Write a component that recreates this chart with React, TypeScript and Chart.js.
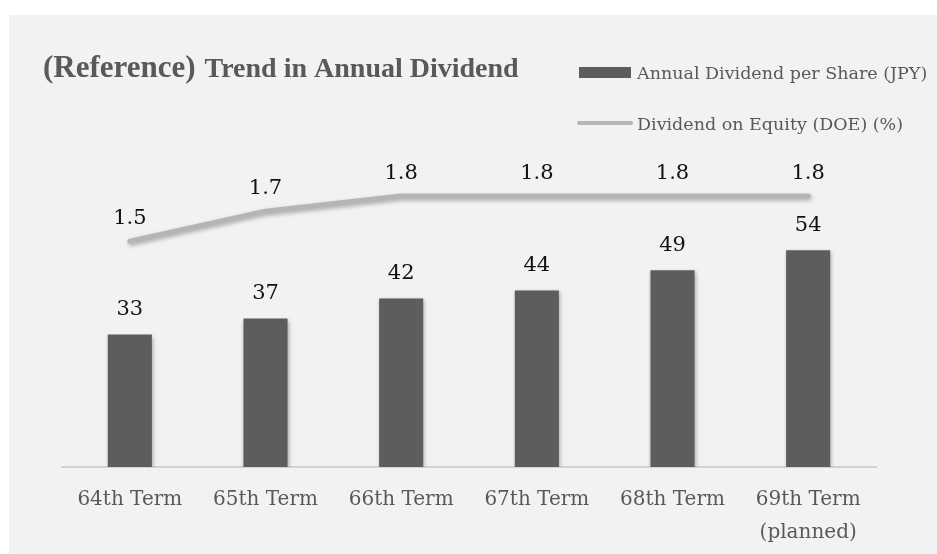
import React, { useEffect, useRef } from 'react';
import { Chart, registerables } from 'chart.js';

Chart.register(...registerables);

const categories: string[][] = [
  ['64th Term'],
  ['65th Term'],
  ['66th Term'],
  ['67th Term'],
  ['68th Term'],
  ['69th Term', '(planned)'],
];
const dividendJPY: number[] = [33, 37, 42, 44, 49, 54];
const doePercent: number[] = [1.5, 1.7, 1.8, 1.8, 1.8, 1.8];

const titlePrefix = '(Reference)';
const titleMain = 'Trend in Annual Dividend';
const barLabel = 'Annual Dividend per Share (JPY)';
const lineLabel = 'Dividend on Equity (DOE) (%)';

const BAR_COLOR = '#5d5d5d';
const LINE_COLOR = '#b5b5b5';
const TEXT_GRAY = '#595959';
const SERIF = '"DejaVu Serif", serif';
const TITLE_SERIF = '"Liberation Serif", "Times New Roman", serif';

const shadowPlugin = {
  id: 'shadowPlugin',
  beforeDatasetDraw(chart: any) {
    const ctx = chart.ctx;
    ctx.save();
    ctx.shadowColor = 'rgba(0,0,0,0.3)';
    ctx.shadowBlur = 4;
    ctx.shadowOffsetX = 1;
    ctx.shadowOffsetY = 2;
  },
  afterDatasetDraw(chart: any) {
    chart.ctx.restore();
  },
};

const valueLabelPlugin = {
  id: 'valueLabelPlugin',
  afterDatasetsDraw(chart: any) {
    const ctx = chart.ctx;
    ctx.save();
    ctx.font = `21px ${SERIF}`;
    ctx.fillStyle = '#111111';
    ctx.textAlign = 'center';
    ctx.textBaseline = 'middle';
    chart.data.datasets.forEach((ds: any, di: number) => {
      const meta = chart.getDatasetMeta(di);
      meta.data.forEach((el: any, i: number) => {
        const v = ds.data[i];
        const txt = ds.type === 'line' ? Number(v).toFixed(1) : String(v);
        const off = ds.type === 'line' ? 23 : 25;
        ctx.fillText(txt, el.x, el.y - off);
      });
    });
    ctx.restore();
  },
};

const headerPlugin = {
  id: 'headerPlugin',
  afterDraw(chart: any) {
    const ctx = chart.ctx;
    ctx.save();
    // Title
    ctx.fillStyle = TEXT_GRAY;
    ctx.textBaseline = 'alphabetic';
    ctx.textAlign = 'left';
    ctx.font = `bold 31px ${TITLE_SERIF}`;
    ctx.fillText(titlePrefix, 43, 77);
    const w = ctx.measureText(titlePrefix).width;
    ctx.font = `bold 28px ${TITLE_SERIF}`;
    ctx.fillText(titleMain, 43 + w + 9, 77);

    // Legend
    ctx.font = `17.5px ${SERIF}`;
    ctx.fillStyle = BAR_COLOR;
    ctx.fillRect(579, 67, 52, 11);
    ctx.fillStyle = TEXT_GRAY;
    ctx.fillText(barLabel, 637, 79);

    ctx.strokeStyle = LINE_COLOR;
    ctx.lineWidth = 4;
    ctx.lineCap = 'round';
    ctx.beginPath();
    ctx.moveTo(579, 123);
    ctx.lineTo(631, 123);
    ctx.stroke();
    ctx.fillStyle = TEXT_GRAY;
    ctx.fillText(lineLabel, 637, 130);
    ctx.restore();
  },
};

export default function App() {
  const canvasRef = useRef<HTMLCanvasElement | null>(null);

  useEffect(() => {
    if (!canvasRef.current) return;
    const chart = new Chart(canvasRef.current, {
      type: 'bar',
      data: {
        labels: categories,
        datasets: [
          {
            type: 'line',
            label: lineLabel,
            data: doePercent,
            yAxisID: 'y1',
            borderColor: LINE_COLOR,
            backgroundColor: LINE_COLOR,
            borderWidth: 5,
            borderCapStyle: 'round',
            borderJoinStyle: 'round',
            pointRadius: 0,
            tension: 0,
            order: 0,
          } as any,
          {
            type: 'bar',
            label: barLabel,
            data: dividendJPY,
            yAxisID: 'y',
            backgroundColor: BAR_COLOR,
            borderWidth: 0,
            categoryPercentage: 1,
            barPercentage: 0.325,
            order: 1,
          } as any,
        ],
      },
      options: {
        responsive: false,
        animation: false,
        devicePixelRatio: 1,
        layout: { padding: { left: 62, right: 61, top: 166, bottom: 0 } },
        plugins: {
          legend: { display: false },
          title: { display: false },
          tooltip: { enabled: false },
        },
        scales: {
          x: {
            grid: { display: false, drawTicks: false },
            border: { display: true, color: '#d3d3d3', width: 2 },
            ticks: {
              color: TEXT_GRAY,
              font: { family: SERIF, size: 20, lineHeight: 1.65 },
              padding: 16,
              maxRotation: 0,
              autoSkip: false,
            },
            afterFit: (scale: any) => {
              scale.height = 87;
            },
          },
          y: { display: false, min: 0, max: 75 },
          y1: { display: false, min: 0, max: 2.0, position: 'right' },
        },
      },
      plugins: [shadowPlugin, valueLabelPlugin, headerPlugin],
    });
    return () => chart.destroy();
  }, []);

  return (
    <div style={{ position: 'fixed', left: 0, top: 0, width: 937, height: 554, background: '#ffffff', overflow: 'hidden' }}>
      <div style={{ position: 'absolute', left: 9, top: 15, right: 0, bottom: 0, background: '#f2f2f2' }} />
      <canvas ref={canvasRef} width={937} height={554} style={{ position: 'absolute', left: 0, top: 0, width: 937, height: 554 }} />
    </div>
  );
}
